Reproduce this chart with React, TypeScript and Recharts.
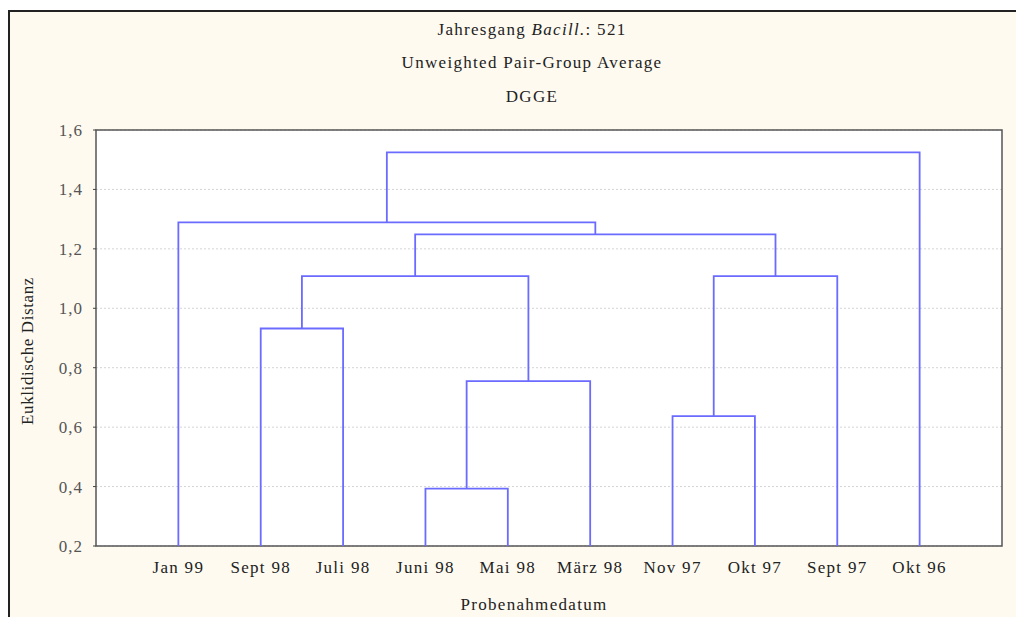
import React from "react";
import {
  LineChart,
  Line,
  XAxis,
  YAxis,
  CartesianGrid,
  ReferenceArea,
} from "recharts";

// leaves in dendrogram order, left to right
const leaves = [
  "Jan 99",
  "Sept 98",
  "Juli 98",
  "Juni 98",
  "Mai 98",
  "März 98",
  "Nov 97",
  "Okt 97",
  "Sept 97",
  "Okt 96",
];

// linkage: ids < 10 are leaves, id 10 + i is merge i
const mergeLeft = [3, 6, 10, 1, 11, 13, 15, 0, 17];
const mergeRight = [4, 7, 5, 2, 8, 12, 14, 16, 9];
const mergeHeight = [0.393, 0.637, 0.755, 0.932, 1.108, 1.108, 1.249, 1.289, 1.525];

const yTicks = [0.2, 0.4, 0.6, 0.8, 1.0, 1.2, 1.4, 1.6];
const xTicks = leaves.map((_, i) => i + 1);

const BASE = 0.2;
const LINK = "#6b6bff";
const SERIF = "Liberation Serif, DejaVu Serif, Times New Roman, serif";

function nodeX(id: number): number {
  if (id < leaves.length) return id + 1;
  const m = id - leaves.length;
  return (nodeX(mergeLeft[m]) + nodeX(mergeRight[m])) / 2;
}

function nodeH(id: number): number {
  return id < leaves.length ? BASE : mergeHeight[id - leaves.length];
}

const links = mergeHeight.map((h, i) => {
  const l = mergeLeft[i];
  const r = mergeRight[i];
  return [
    { x: nodeX(l), y: nodeH(l) },
    { x: nodeX(l), y: h },
    { x: nodeX(r), y: h },
    { x: nodeX(r), y: nodeH(r) },
  ];
});

const textStyle: React.CSSProperties = {
  position: "absolute",
  fontFamily: SERIF,
  fontSize: 17,
  color: "#222",
  letterSpacing: 1.3,
  lineHeight: "20px",
  textAlign: "center",
  whiteSpace: "nowrap",
};

export default function App() {
  return (
    <div
      style={{
        position: "fixed",
        left: 8,
        top: 10,
        width: 1008,
        height: 607,
        boxSizing: "border-box",
        background: "#fefaf0",
        borderTop: "2px solid #222",
        borderLeft: "2px solid #222",
        fontFamily: SERIF,
      }}
    >
      <div style={{ ...textStyle, left: 0, width: 1044, top: 8 }}>
        Jahresgang <i>Bacill.</i>: 521
      </div>
      <div style={{ ...textStyle, left: 0, width: 1044, top: 41 }}>
        Unweighted Pair-Group Average
      </div>
      <div style={{ ...textStyle, left: 0, width: 1044, top: 75 }}>DGGE</div>
      <div style={{ ...textStyle, left: 0, width: 1048, top: 583 }}>
        Probenahmedatum
      </div>
      <div
        style={{
          ...textStyle,
          left: -82,
          width: 200,
          top: 329,
          transform: "rotate(-90deg)",
          letterSpacing: 0.6,
        }}
      >
        Euklidische Distanz
      </div>

      <div style={{ position: "absolute", left: 0, top: 0 }}>
        <LineChart
          width={1006}
          height={605}
          margin={{ top: 118, right: 14, bottom: 31, left: 30 }}
        >
          <CartesianGrid
            vertical={false}
            fill="#ffffff"
            stroke="#d4d4d4"
            strokeDasharray="2 2"
          />
          <XAxis
            type="number"
            dataKey="x"
            domain={[0, 11]}
            ticks={xTicks}
            interval={0}
            tickFormatter={(v: number) => leaves[v - 1]}
            height={40}
            tickLine={false}
            axisLine={false}
            tickSize={6}
            tickMargin={9}
            tick={{ fontFamily: SERIF, fontSize: 17, fill: "#222", letterSpacing: 1.3 }}
          />
          <YAxis
            type="number"
            dataKey="y"
            domain={[0.2, 1.6]}
            ticks={yTicks}
            interval={0}
            width={56}
            tickFormatter={(v: number) => v.toFixed(1).replace(".", ",")}
            axisLine={false}
            tickSize={3}
            tickMargin={10}
            tickLine={{ stroke: "#444" }}
            tick={{ fontFamily: SERIF, fontSize: 17, fill: "#555", letterSpacing: 1 }}
          />
          <ReferenceArea
            x1={0}
            x2={11}
            y1={0.2}
            y2={1.6}
            fill="none"
            stroke="#555"
            strokeWidth={1.5}
          />
          {links.map((pts, i) => (
            <Line
              key={i}
              data={pts}
              dataKey="y"
              type="linear"
              stroke={LINK}
              strokeWidth={1.8}
              dot={false}
              activeDot={false}
              isAnimationActive={false}
            />
          ))}
        </LineChart>
      </div>
    </div>
  );
}
